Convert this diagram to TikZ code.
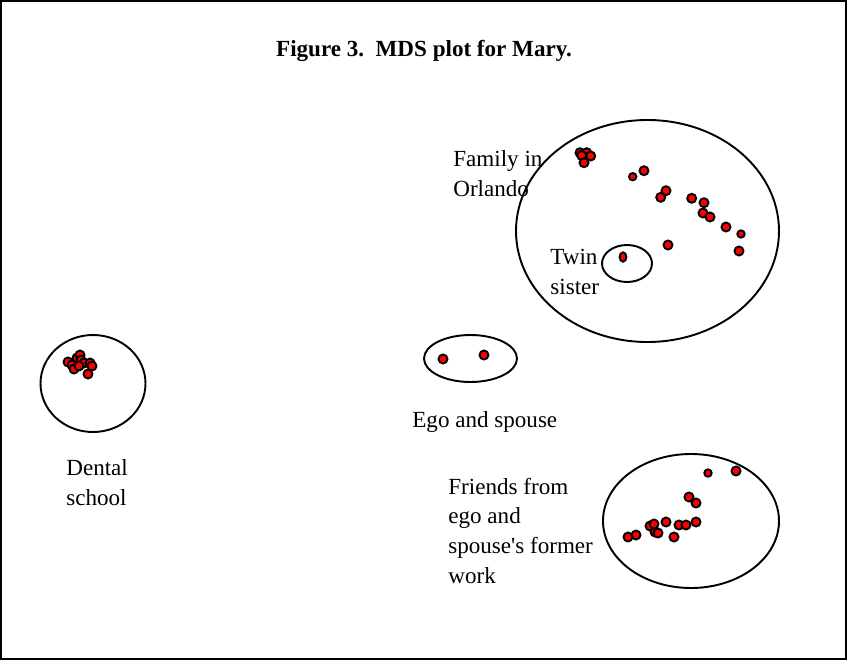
\documentclass[tikz,border=0pt]{standalone}
\usepackage{fontspec}
\setmainfont{Liberation Serif}
\usepackage{tikz}
\tikzset{
  every picture/.style={x=0.52pt, y=-0.52pt},
  grp/.style={line width=1pt},
  dot/.style={fill=red, draw=black, line width=1pt},
  lbl/.style={anchor=base west, inner sep=0pt, align=left,
    font=\fontsize{12}{15.4}\selectfont}
}

\begin{document}
\begin{tikzpicture}
\useasboundingbox (0,0) rectangle (848,661);
\draw[line width=1.1pt] (1,1) rectangle (846,659);

\node (title)
	[font=\fontsize{12}{14}\selectfont\bfseries, anchor=base]
	at (424,56) {Figure 3.\ \ MDS plot for Mary.};

% groups
\draw[grp] (647.5,231) ellipse [x radius=131.5, y radius=111];
\draw[grp] (627,263.5) ellipse [x radius=25, y radius=18.5];
\draw[grp] (93,383.5) ellipse [x radius=52.5, y radius=48.5];
\draw[grp] (470.5,358.5) ellipse [x radius=46.5, y radius=23.5];
\draw[grp] (691,521) ellipse [x radius=88, y radius=67];

% points
\foreach \px/\py in {580/152.7, 586.7/152.7, 590.7/156, 581.7/155.5, 584/162.7,
	644/170.7, 666/190.7, 660.7/197.3, 691.7/198.3, 704/202.7, 703/213, 710/217,
	726/227, 739/251, 668/245}
	\draw[dot] (\px,\py) circle [radius=4.5];
\foreach \px/\py in {632.7/176.7, 741/234}
	\draw[dot] (\px,\py) circle [radius=3.7];
\draw[dot] (623,257) ellipse [x radius=3.4, y radius=4.7];

\foreach \px/\py in {77/358, 80/355, 68/362, 72/365, 74/369, 81/360, 84/363,
	90/363, 92/366, 88/374, 79/366}
	\draw[dot] (\px,\py) circle [radius=4.5];

\foreach \px/\py in {443/359, 484/355}
	\draw[dot] (\px,\py) circle [radius=4.5];

\draw[dot] (708,473) circle [radius=3.7];
\foreach \px/\py in {736/471, 689/497, 696/503, 666/522, 679/525, 686/525,
	696/522, 650/526, 655/532, 658/533, 654/524, 674/537, 636/535, 628/537}
	\draw[dot] (\px,\py) circle [radius=4.5];

% labels (base = last line)
\node (tfamily) [lbl] at (453,196) {Family in\\Orlando};
\node (ttwin) [lbl] at (550,294) {Twin\\sister};
\node (tdental) [lbl] at (66,505) {Dental\\school};
\node (tego) [lbl] at (412,427) {Ego and spouse};
\node (tfriends) [lbl] at (448,583) {Friends from\\ego and\\spouse\textquotesingle s former\\work};
\end{tikzpicture}
\end{document}
